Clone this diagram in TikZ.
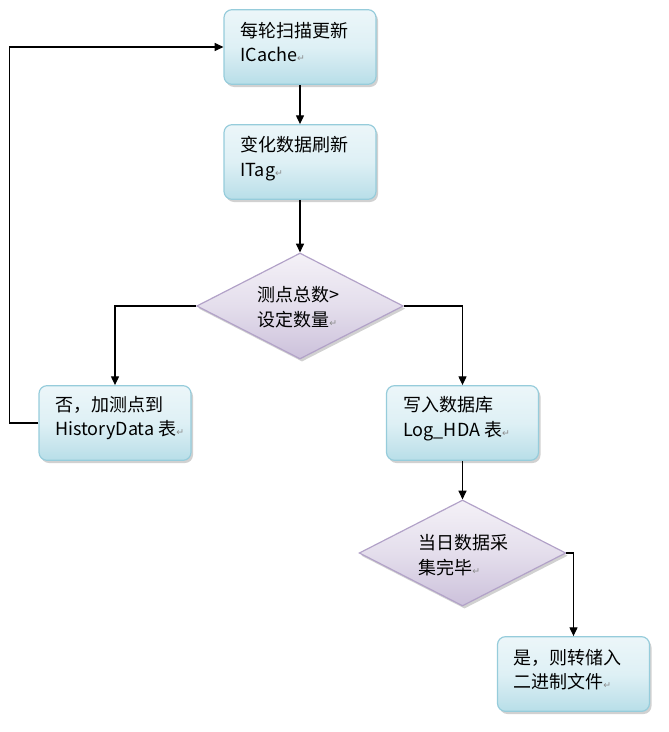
\documentclass[tikz,border=0pt]{standalone}
\usepackage{fontspec}
\setmainfont{Noto Sans CJK SC}
\newfontfamily\symf{DejaVu Sans}
\usetikzlibrary{shapes.geometric,shadows,arrows.meta}
\definecolor{boxtop}{RGB}{236,246,249}
\definecolor{boxmid}{RGB}{222,240,245}
\definecolor{boxbot}{RGB}{184,222,232}
\definecolor{boxedge}{RGB}{150,204,219}
\definecolor{dtop}{RGB}{244,241,247}
\definecolor{dmid}{RGB}{228,222,236}
\definecolor{dbot}{RGB}{204,193,219}
\definecolor{dedge}{RGB}{178,162,200}
\newcommand\retmark{{\symf\fontsize{7}{8}\selectfont\color{black!45}↵}}
\begin{document}
\begin{tikzpicture}[x=0.75pt,y=-0.75pt,
  procbox/.style={rectangle, rounded corners=6pt, draw=boxedge, line width=0.9pt,
    top color=boxtop, bottom color=boxbot, middle color=boxmid,
    minimum width=114pt, minimum height=56pt, inner sep=0pt,
    drop shadow={shadow xshift=1.5pt, shadow yshift=-2pt, opacity=0.3, fill=black!60}},
  decbox/.style={diamond, draw=dedge, line width=0.9pt,
    top color=dtop, bottom color=dbot, middle color=dmid,
    minimum width=155pt, minimum height=79.5pt, inner sep=0pt,
    drop shadow={shadow xshift=1.5pt, shadow yshift=-2pt, opacity=0.3, fill=black!60}},
  txt/.style={anchor=west, align=left, inner sep=0pt, font=\fontsize{13.5}{18.5}\selectfont},
  conn/.style={draw=black, line width=0.8pt, -{Triangle[length=6.5pt,width=6pt]}}
]
\useasboundingbox (0,0) rectangle (668,732);

\node[procbox] (b1) at (300,47) {};
\node[procbox] (b2) at (300,162) {};
\node[decbox]  (d1) at (300,306) {};
\node[procbox] (b3) at (115,423) {};
\node[procbox] (b4) at (462.5,423) {};
\node[decbox]  (d2) at (462.5,553) {};
\node[procbox] (b5) at (573.5,674) {};

\node[txt] (t1) at (240,42) {每轮扫描更新\\ICache\retmark};
\node[txt] (t2) at (240,158.5) {变化数据刷新\\ITag\retmark};
\node[txt] (td1) at (257,307.5) {测点总数>\\设定数量\retmark};
\node[txt] (t3) at (55,418) {否，加测点到\\HistoryData 表\retmark};
\node[txt] (t4) at (403,419) {写入数据库\\Log\_HDA 表\retmark};
\node[txt] (td2) at (418,555) {当日数据采\\集完毕\retmark};
\node[txt] (t5) at (513,669.5) {是，则转储入\\二进制文件\retmark};

\draw[conn] (b1.south) -- (b2.north);
\draw[conn] (b2.south) -- (d1.north);
\draw[conn] (d1.west) -| (b3.north);
\draw[conn] (d1.east) -| (b4.north);
\draw[conn] (b3.west) -- ++(-29,0) |- (b1.west);
\draw[conn] (b4.south) -- (d2.north);
\draw[conn] (d2.east) -| (b5.north);
\end{tikzpicture}
\end{document}
